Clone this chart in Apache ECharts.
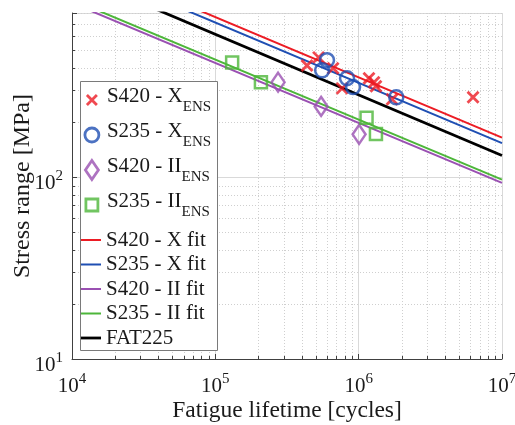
<!DOCTYPE html>
<html>
<head>
<meta charset="utf-8">
<script src="https://cdn.jsdelivr.net/npm/echarts@6/dist/echarts.min.js"></script>
<style>
  html, body { margin: 0; padding: 0; background: #fff; }
  #chart { width: 515px; height: 425px; }
</style>
</head>
<body>
<div id="chart"></div>
<script>
// Fatigue test results: cycles to failure and stress range [MPa]
const s420X_N = [4.36e5, 5.25e5, 6.63e5, 7.66e5, 1.18e6, 1.28e6, 1.32e6, 1.71e6, 6.28e6];
const s420X_S = [412, 456, 397, 308, 350, 333, 316, 268, 275];

const s235X_N = [6.01e5, 5.56e5, 8.30e5, 9.14e5, 1.83e6];
const s235X_S = [440, 387, 350, 313, 275];

const s420II_N = [2.74e5, 5.47e5, 1.007e6];
const s420II_S = [333, 245, 172];

const s235II_N = [1.31e5, 2.08e5, 1.135e6, 1.32e6];
const s235II_S = [428, 333, 212, 173];

// S-N fit lines, end points at 1e4 and 1e7 cycles
const fitN = [1e4, 1e7];
const s420XFit_S = [1630, 165];
const s235XFit_S = [1521, 154];
const s420IIFit_S = [908, 93];
const s235IIFit_S = [948, 97];
const fat225_S = [1316, 131.6];

// Axis ranges and minor grid values
const X_MIN = 1e4, X_MAX = 1e7;
const Y_MIN = 10, Y_MAX = 800;
const xMinor = [2e4, 3e4, 4e4, 5e4, 6e4, 7e4, 8e4, 9e4,
                2e5, 3e5, 4e5, 5e5, 6e5, 7e5, 8e5, 9e5,
                2e6, 3e6, 4e6, 5e6, 6e6, 7e6, 8e6, 9e6];
const yMinor = [20, 30, 40, 50, 60, 70, 80, 90, 200, 300, 400, 500, 600, 700, 800];

const FONT = 'Liberation Serif';
const TXT = '#1a1a1a';
const AXIS_COLOR = '#404040';
const MAJOR_GRID = '#d9d9d9';
const MINOR_GRID = '#cfcfcf';

const RED = '#ec1c24';
const BLUE = '#1f4fb3';
const PURPLE = '#9a50b2';
const GREEN = '#4db63a';
const BLACK = '#000000';

const pairs = (xs, ys) => xs.map((x, i) => [x, ys[i]]);

// "10^n" labels for decades only
function powerLabel(v) {
  const e = Math.log10(v);
  const r = Math.round(e);
  if (Math.abs(e - r) > 1e-6) return '';
  return '{b|10}{s|' + r + '}';
}

const labelRich = {
  b: { fontFamily: FONT, fontSize: 21, color: TXT, verticalAlign: 'bottom', lineHeight: 25 },
  s: { fontFamily: FONT, fontSize: 15, color: TXT, verticalAlign: 'top', lineHeight: 25 }
};

const crisp = v => Math.round(v) + 0.5;

// Minor vertical grid lines with short inward ticks on the bottom axis
function renderMinorX(params, api) {
  const cs = params.coordSys;
  const x = crisp(api.coord([api.value(0), api.value(1)])[0]);
  const top = cs.y, bottom = cs.y + cs.height;
  return {
    type: 'group',
    children: [
      { type: 'line', shape: { x1: x, y1: top, x2: x, y2: bottom },
        style: { stroke: MINOR_GRID, lineWidth: 1, lineDash: [1, 2] } },
      { type: 'line', shape: { x1: x, y1: bottom, x2: x, y2: bottom - 3 },
        style: { stroke: AXIS_COLOR, lineWidth: 1 } }
    ]
  };
}

// Minor horizontal grid lines with short inward ticks on the left axis
function renderMinorY(params, api) {
  const cs = params.coordSys;
  const y = crisp(api.coord([api.value(0), api.value(1)])[1]);
  const left = cs.x, right = cs.x + cs.width;
  return {
    type: 'group',
    children: [
      { type: 'line', shape: { x1: left, y1: y, x2: right, y2: y },
        style: { stroke: MINOR_GRID, lineWidth: 1, lineDash: [1, 2] } },
      { type: 'line', shape: { x1: left, y1: y, x2: left + 3, y2: y },
        style: { stroke: AXIS_COLOR, lineWidth: 1 } }
    ]
  };
}

// Legend icons drawn in a common 19x19 box so the marker keeps its own size
const ICON_X = 'path://M0,0M19,19M4.5,4.5L14.5,14.5M4.5,14.5L14.5,4.5';
const ICON_O = 'path://M0,0M19,19M2.5,9.5A7,7,0,1,1,16.5,9.5A7,7,0,1,1,2.5,9.5Z';
const ICON_D = 'path://M0,0M19,19M9.5,0L16,9.5L9.5,19L3,9.5Z';
const ICON_S = 'path://M0,0M19,19M3.5,3.5L15.5,3.5L15.5,15.5L3.5,15.5Z';
// Plain line segments for the fit-line legend entries
const ICON_LINE = 'path://M0,0L20,0L20,2L0,2Z';
const ICON_LINE_THICK = 'path://M0,0L20,0L20,2.8L0,2.8Z';

const hollow = 'rgba(0,0,0,0)';

const chart = echarts.init(document.getElementById('chart'), null, { renderer: 'canvas' });

chart.setOption({
  animation: false,
  backgroundColor: '#ffffff',
  grid: {
    left: 72, right: 13, top: 13, bottom: 66,
    containLabel: false,
    outerBoundsMode: 'none'
  },
  xAxis: {
    type: 'log',
    logBase: 10,
    min: X_MIN,
    max: X_MAX,
    name: 'Fatigue lifetime [cycles]',
    nameLocation: 'middle',
    nameGap: 40,
    nameMoveOverlap: false,
    nameTextStyle: { fontFamily: FONT, fontSize: 23.5, color: TXT },
    axisLine: { show: true, onZero: false, lineStyle: { color: AXIS_COLOR, width: 1 } },
    axisTick: { show: true, inside: true, length: 5, lineStyle: { color: AXIS_COLOR } },
    axisLabel: { formatter: powerLabel, margin: 12.5, rich: labelRich, hideOverlap: false },
    splitLine: { show: true, lineStyle: { color: MAJOR_GRID, width: 1 } },
    minorTick: { show: false },
    minorSplitLine: { show: false }
  },
  yAxis: {
    type: 'log',
    logBase: 10,
    min: Y_MIN,
    max: Y_MAX,
    name: 'Stress range [MPa]',
    nameLocation: 'middle',
    nameGap: 37,
    nameMoveOverlap: false,
    nameTextStyle: { fontFamily: FONT, fontSize: 24, color: TXT },
    axisLine: { show: true, onZero: false, lineStyle: { color: AXIS_COLOR, width: 1 } },
    axisTick: { show: true, inside: true, length: 5, lineStyle: { color: AXIS_COLOR } },
    axisLabel: { formatter: powerLabel, margin: 9, padding: [8, 0, 0, 0], rich: labelRich, hideOverlap: false },
    splitLine: { show: true, lineStyle: { color: MAJOR_GRID, width: 1 } },
    minorTick: { show: false },
    minorSplitLine: { show: false }
  },
  graphic: [{
    type: 'rect',
    z: 3,
    silent: true,
    shape: { x: 80.5, y: 81.5, width: 137, height: 269 },
    style: { fill: '#ffffff', stroke: '#7a7a7a', lineWidth: 1 }
  }],
  legend: [
    {
      orient: 'vertical',
      left: 81,
      top: 85.5,
      padding: 0,
      itemGap: 6,
      itemWidth: 20,
      itemHeight: 19,
      selectedMode: false,
      z: 5,
      itemStyle: { borderWidth: 2.8 },
      data: [
        { name: 'S420 - X', icon: ICON_X },
        { name: 'S235 - X', icon: ICON_O },
        { name: 'S420 - II', icon: ICON_D },
        { name: 'S235 - II', icon: ICON_S }
      ],
      formatter: name => '{a|' + name + '}{s|ENS}',
      textStyle: {
        fontFamily: FONT, fontSize: 21, color: TXT,
        rich: {
          a: { fontFamily: FONT, fontSize: 21, color: TXT, verticalAlign: 'top' },
          s: { fontFamily: FONT, fontSize: 15, color: TXT, verticalAlign: 'bottom', lineHeight: 29 }
        }
      }
    },
    {
      orient: 'vertical',
      left: 81,
      top: 229,
      padding: 0,
      itemGap: 2.5,
      itemWidth: 20,
      itemHeight: 14,
      selectedMode: false,
      z: 5,
      itemStyle: { borderWidth: 0 },
      data: [
        { name: 'S420 - X fit', icon: ICON_LINE },
        { name: 'S235 - X fit', icon: ICON_LINE },
        { name: 'S420 - II fit', icon: ICON_LINE },
        { name: 'S235 - II fit', icon: ICON_LINE },
        { name: 'FAT225', icon: ICON_LINE_THICK }
      ],
      textStyle: { fontFamily: FONT, fontSize: 21, color: TXT, lineHeight: 22 }
    }
  ],
  series: [
    {
      name: 'minor-x', type: 'custom', silent: true, z: 0,
      renderItem: renderMinorX,
      data: xMinor.map(v => [v, Y_MIN])
    },
    {
      name: 'minor-y', type: 'custom', silent: true, z: 0,
      renderItem: renderMinorY,
      data: yMinor.map(v => [X_MIN, v])
    },
    {
      name: 'S420 - X fit', type: 'line', symbol: 'none', z: 2, clip: true,
      lineStyle: { color: RED, width: 2 }, itemStyle: { color: RED },
      data: pairs(fitN, s420XFit_S)
    },
    {
      name: 'S235 - X fit', type: 'line', symbol: 'none', z: 2, clip: true,
      lineStyle: { color: BLUE, width: 2 }, itemStyle: { color: BLUE },
      data: pairs(fitN, s235XFit_S)
    },
    {
      name: 'S420 - II fit', type: 'line', symbol: 'none', z: 2, clip: true,
      lineStyle: { color: PURPLE, width: 2 }, itemStyle: { color: PURPLE },
      data: pairs(fitN, s420IIFit_S)
    },
    {
      name: 'S235 - II fit', type: 'line', symbol: 'none', z: 2, clip: true,
      lineStyle: { color: GREEN, width: 2 }, itemStyle: { color: GREEN },
      data: pairs(fitN, s235IIFit_S)
    },
    {
      name: 'FAT225', type: 'line', symbol: 'none', z: 2, clip: true,
      lineStyle: { color: BLACK, width: 2.8 }, itemStyle: { color: BLACK },
      data: pairs(fitN, fat225_S)
    },
    {
      name: 'S420 - X', type: 'scatter', z: 2,
      symbol: 'path://M0,0L10,10M0,10L10,0', symbolSize: 11,
      itemStyle: { color: hollow, borderColor: RED, borderWidth: 2.8 },
      data: pairs(s420X_N, s420X_S)
    },
    {
      name: 'S235 - X', type: 'scatter', z: 2,
      symbol: 'circle', symbolSize: 14,
      itemStyle: { color: hollow, borderColor: BLUE, borderWidth: 2.5 },
      data: pairs(s235X_N, s235X_S)
    },
    {
      name: 'S420 - II', type: 'scatter', z: 2,
      symbol: 'diamond', symbolSize: [13, 19],
      itemStyle: { color: hollow, borderColor: PURPLE, borderWidth: 2.5 },
      data: pairs(s420II_N, s420II_S)
    },
    {
      name: 'S235 - II', type: 'scatter', z: 2,
      symbol: 'rect', symbolSize: 12,
      itemStyle: { color: hollow, borderColor: GREEN, borderWidth: 2.5 },
      data: pairs(s235II_N, s235II_S)
    }
  ]
});
</script>
</body>
</html>
